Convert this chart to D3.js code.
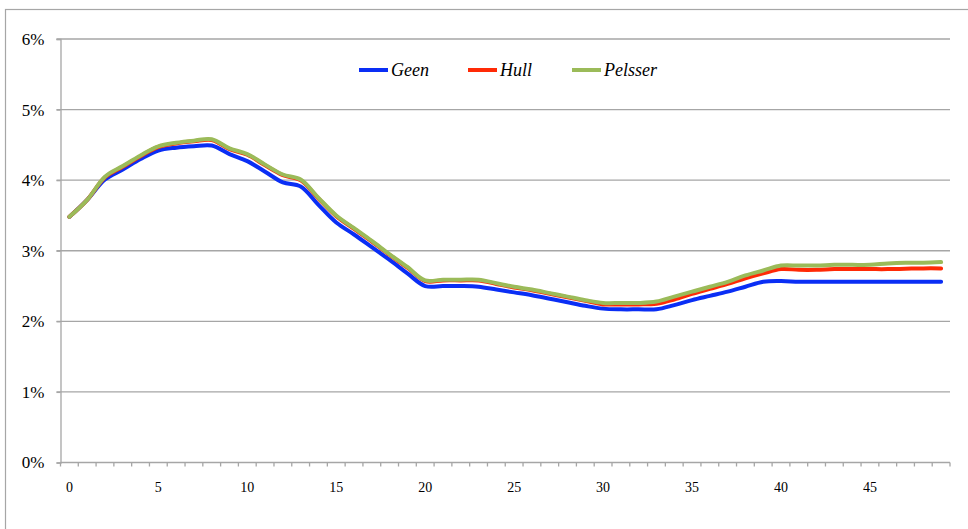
<!DOCTYPE html>
<html>
<head>
<meta charset="utf-8">
<script src="https://cdn.jsdelivr.net/npm/d3@7"></script>
<style>
  html, body { margin: 0; padding: 0; background: #fff; }
  svg { display: block; }
  svg text { font-family: 'Liberation Serif', 'Times New Roman', serif !important; }
</style>
</head>
<body>
<svg id="chart" width="968" height="529"></svg>
<script>
// Maturity index (years) for each observation
const maturities = d3.range(0, 50);

// Rates in percent, one array per model
const geen = [
  3.48, 3.72, 4.01, 4.15, 4.30, 4.42, 4.46, 4.48, 4.49, 4.37,
  4.27, 4.12, 3.97, 3.91, 3.65, 3.40, 3.23, 3.05, 2.87, 2.68,
  2.50, 2.50, 2.50, 2.49, 2.45, 2.41, 2.37, 2.32, 2.27, 2.22,
  2.18, 2.17, 2.17, 2.17, 2.23, 2.30, 2.36, 2.42, 2.49, 2.56,
  2.57, 2.56, 2.56, 2.56, 2.56, 2.56, 2.56, 2.56, 2.56, 2.56
];
const hull = [
  3.48, 3.72, 4.04, 4.19, 4.34, 4.47, 4.52, 4.55, 4.57, 4.44,
  4.36, 4.21, 4.07, 4.00, 3.74, 3.49, 3.31, 3.13, 2.94, 2.76,
  2.57, 2.58, 2.58, 2.58, 2.53, 2.48, 2.44, 2.39, 2.34, 2.29,
  2.24, 2.24, 2.24, 2.25, 2.31, 2.39, 2.46, 2.53, 2.61, 2.68,
  2.74, 2.73, 2.73, 2.74, 2.74, 2.74, 2.74, 2.745, 2.75, 2.75
];
const pelsser = [
  3.48, 3.72, 4.05, 4.20, 4.35, 4.48, 4.53, 4.56, 4.58, 4.45,
  4.37, 4.22, 4.08, 4.01, 3.75, 3.50, 3.32, 3.14, 2.95, 2.77,
  2.58, 2.59, 2.59, 2.59, 2.54, 2.49, 2.45, 2.40, 2.35, 2.30,
  2.26, 2.26, 2.26, 2.28, 2.35, 2.42, 2.49, 2.56, 2.65, 2.72,
  2.79, 2.79, 2.79, 2.80, 2.80, 2.80, 2.82, 2.83, 2.83, 2.84
];

const seriesNames = ["Geen", "Hull", "Pelsser"];
const seriesColors = ["#0a2ef5", "#ff2a06", "#9bbb59"];
const yTicks = [0, 1, 2, 3, 4, 5, 6];
const xLabelEvery = 5;

const svg = d3.select("#chart");
const W = 968, H = 529;
const plot = { left: 60.5, right: 950, top: 39, bottom: 462.5 };

// outer chart frame
svg.append("rect")
  .attr("x", 5.5).attr("y", 9.5)
  .attr("width", W + 10).attr("height", H + 10)
  .attr("fill", "none").attr("stroke", "#a6a6a6").attr("stroke-width", 1.2);

const x = d3.scaleBand().domain(maturities).range([plot.left, plot.right]).padding(0);
const y = d3.scaleLinear().domain([0, 6]).range([plot.bottom, plot.top]);

// horizontal gridlines
svg.append("g")
  .selectAll("line")
  .data(yTicks.filter(d => d > 0))
  .join("line")
  .attr("x1", plot.left - 4).attr("x2", plot.right)
  .attr("y1", d => y(d)).attr("y2", d => y(d))
  .attr("stroke", "#a6a6a6").attr("stroke-width", 1.3);

// y axis
const yAxis = svg.append("g")
  .attr("transform", `translate(${plot.left},0)`)
  .call(d3.axisLeft(y).tickValues(yTicks).tickSize(4).tickPadding(12)
    .tickFormat(d => d + "%"))
  .attr("font-size", 17);
yAxis.select(".domain").attr("stroke", "#a6a6a6").attr("stroke-width", 1.3);
yAxis.selectAll(".tick line").attr("stroke", "#a6a6a6").attr("stroke-width", 1.3);
yAxis.selectAll(".tick text").attr("fill", "#000");

// x axis: ticks on category boundaries, labels at every fifth category
const bw = x.bandwidth();
const xAxisG = svg.append("g")
  .attr("transform", `translate(0,${plot.bottom})`)
  .attr("font-size", 14);
xAxisG.append("line")
  .attr("x1", plot.left).attr("x2", plot.right)
  .attr("stroke", "#a6a6a6").attr("stroke-width", 1.3);
xAxisG.selectAll("line.tk")
  .data(maturities.concat([maturities.length]))
  .join("line")
  .attr("class", "tk")
  .attr("x1", d => d < maturities.length ? x(d) : x(maturities.length - 1) + bw)
  .attr("x2", d => d < maturities.length ? x(d) : x(maturities.length - 1) + bw)
  .attr("y1", 0).attr("y2", 4)
  .attr("stroke", "#a6a6a6").attr("stroke-width", 1.3);
xAxisG.selectAll("text")
  .data(maturities.filter(d => d % xLabelEvery === 0))
  .join("text")
  .attr("x", d => x(d) + bw / 2)
  .attr("y", 29)
  .attr("text-anchor", "middle")
  .attr("fill", "#000")
  .text(d => d);

// series lines
const line = d3.line()
  .x((d, i) => x(maturities[i]) + bw / 2)
  .y(d => y(d))
  .curve(d3.curveCatmullRom.alpha(0.5));

[geen, hull, pelsser].forEach((vals, i) => {
  svg.append("path")
    .datum(vals)
    .attr("d", line)
    .attr("fill", "none")
    .attr("stroke", seriesColors[i])
    .attr("stroke-width", 4)
    .attr("stroke-linejoin", "round")
    .attr("stroke-linecap", "round");
});

// legend
const legendX = [359, 468, 572];
const legend = svg.append("g");
seriesNames.forEach((name, i) => {
  const g = legend.append("g").attr("transform", `translate(${legendX[i]},70)`);
  g.append("line")
    .attr("x1", 0).attr("x2", 29)
    .attr("y1", 0).attr("y2", 0)
    .attr("stroke", seriesColors[i]).attr("stroke-width", 4);
  g.append("text")
    .attr("x", 32).attr("y", 6)
    .attr("font-style", "italic")
    .attr("font-size", 18)
    .attr("fill", "#000")
    .text(name);
});
</script>
</body>
</html>
